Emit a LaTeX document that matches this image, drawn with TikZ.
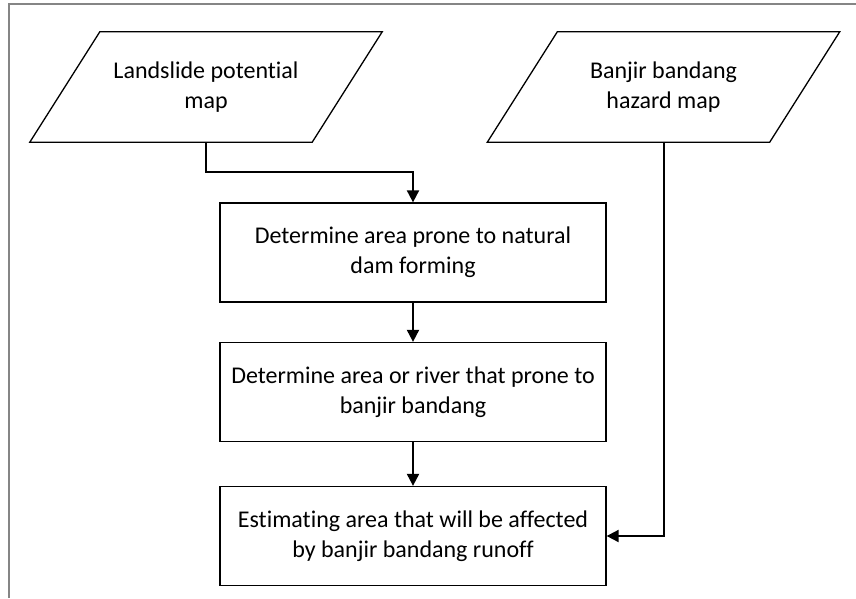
\documentclass[tikz,border=0pt]{standalone}
\usepackage{fontspec}
\setmainfont{Carlito}[Ligatures=NoCommon]
\usetikzlibrary{arrows.meta}

\tikzset{
  txt/.style={font=\fontsize{24pt}{30pt}\selectfont, align=center},
  % invisible frame of a map symbol; its outline is drawn as a parallelogram
  inputmap/.style={rectangle, inner sep=0pt, minimum width=282pt,
    minimum height=110pt, txt},
  slanted/.style={line width=1.3pt, line join=miter},
  procbox/.style={rectangle, draw, line width=1.3pt, inner sep=0pt,
    minimum width=386pt, minimum height=99pt, txt},
  flow/.style={line width=2pt, -{Triangle[width=12pt,length=12pt]}},
  frameline/.style={draw=black!48, line width=2.2pt}
}

\begin{document}
\begin{tikzpicture}[x=1pt,y=-1pt]
  \useasboundingbox (0,0) rectangle (856,598);
  % page frame (top and left edges)
  \draw[frameline] (9,598) -- (9,4) -- (856,4);

  % input maps
  \node[inputmap] (lpm) at (206,87) {Landslide potential\\map};
  \node[inputmap] (bbm) at (663.5,87) {Banjir bandang\\hazard map};
  \foreach \m in {lpm,bbm}
    \draw[slanted] ([xshift=-35pt]\m.south west) -- ([xshift=-35pt]\m.south east)
      -- ([xshift=35pt]\m.north east) -- ([xshift=35pt]\m.north west) -- cycle;

  % processing steps
  \node[procbox] (dam) at (413,252.5) {Determine area prone to natural\\dam forming};
  \node[procbox] (river) at (413,392) {Determine area or river that prone to\\banjir bandang};
  \node[procbox] (est) at (413,536) {Estimating area that will be affected\\by banjir bandang runoff};

  % connectors
  \draw[flow] (lpm.south) -- ++(0,30) -| (dam.north);
  \draw[flow] (dam) -- (river);
  \draw[flow] (river) -- (est);
  \draw[flow] (bbm.south) |- (est.east);
\end{tikzpicture}
\end{document}
